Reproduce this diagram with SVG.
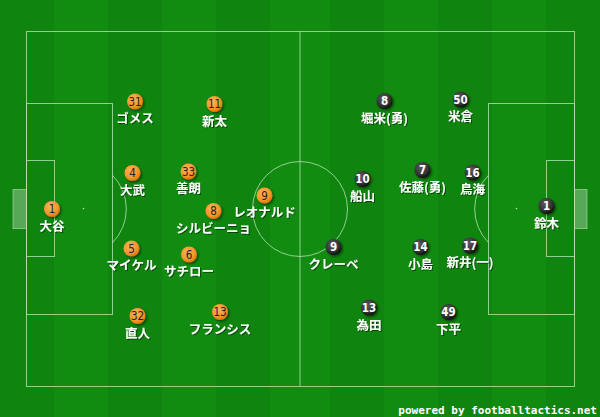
<svg xmlns="http://www.w3.org/2000/svg" width="600" height="417" viewBox="0 0 600 417">
<defs>
<radialGradient id="go" cx="40%" cy="35%" r="65%"><stop offset="0" stop-color="#ffb35a"/><stop offset="0.7" stop-color="#f5962a"/><stop offset="1" stop-color="#d9780f"/></radialGradient>
<radialGradient id="gb" cx="40%" cy="35%" r="65%"><stop offset="0" stop-color="#5a5a5a"/><stop offset="0.7" stop-color="#333"/><stop offset="1" stop-color="#111"/></radialGradient>
<filter id="sh" x="-50%" y="-50%" width="200%" height="200%"><feDropShadow dx="1.5" dy="1.5" stdDeviation="1.2" flood-color="#000" flood-opacity="0.5"/></filter>
<filter id="ts" x="-10%" y="-30%" width="120%" height="160%"><feDropShadow dx="1" dy="1" stdDeviation="0.6" flood-color="#000" flood-opacity="0.5"/></filter>
</defs>
<style>
.ln{fill:none;stroke:#b4e0b4;stroke-opacity:0.8;stroke-width:1}
.o circle{fill:url(#go);filter:url(#sh)}
.b circle{fill:url(#gb);filter:url(#sh)}
.o .n{fill:#222;font-family:"DejaVu Sans Condensed","DejaVu Sans",sans-serif;font-size:11.5px;text-anchor:middle}
.b .n{fill:#fff;font-family:"DejaVu Sans Condensed","DejaVu Sans",sans-serif;font-weight:bold;font-size:11.5px;text-anchor:middle}
.lb{fill:#fff;font-family:"Noto Sans CJK JP",sans-serif;font-weight:bold;font-size:12.5px;text-anchor:middle;filter:url(#ts)}
</style>
<rect width="600" height="417" fill="#118c11"/>
<g fill="#0f850f">
<rect x="0" y="0" width="54" height="417"/>
<rect x="108" y="0" width="54" height="417"/>
<rect x="216" y="0" width="54" height="417"/>
<rect x="330" y="0" width="54" height="417"/>
<rect x="438" y="0" width="54" height="417"/>
<rect x="546" y="0" width="54" height="417"/>
</g>
<g id="pitch">
<rect class="ln" x="26.5" y="31.5" width="548" height="355"/>
<line class="ln" x1="300" y1="31.5" x2="300" y2="386.5"/>
<circle class="ln" cx="300" cy="209" r="47.5"/>
<rect class="ln" x="26.5" y="103.5" width="86" height="211"/>
<rect class="ln" x="26.5" y="160.5" width="28" height="96"/>
<rect class="ln" x="488.5" y="103.5" width="86" height="211"/>
<rect class="ln" x="546.5" y="160.5" width="28" height="96"/>
<path class="ln" d="M112.5 175.3 A48 48 0 0 1 112.5 242.7"/>
<path class="ln" d="M488.5 175.3 A48 48 0 0 0 488.5 242.7"/>
<rect x="13" y="189.5" width="13.5" height="39" fill="#ffffff" fill-opacity="0.3" stroke="#b4e0b4" stroke-opacity="0.6"/>
<rect x="574.5" y="189.5" width="12.5" height="39" fill="#ffffff" fill-opacity="0.3" stroke="#b4e0b4" stroke-opacity="0.6"/>
<circle cx="83.5" cy="208.5" r="0.8" fill="#b4e0b4"/>
<circle cx="516.5" cy="208.5" r="0.8" fill="#b4e0b4"/>
</g>
<g id="connectors"></g>
<g id="home" class="o">
<g id="h1"><circle cx="52" cy="209" r="8"/><text class="n" x="52" y="213">1</text><text class="lb" x="52" y="231">大谷</text></g>
<g id="h31"><circle cx="135" cy="101.5" r="8"/><text class="n" x="135" y="105.5">31</text><text class="lb" x="135" y="123">ゴメス</text></g>
<g id="h11"><circle cx="214.5" cy="104" r="8"/><text class="n" x="214.5" y="108">11</text><text class="lb" x="214.5" y="125.5">新太</text></g>
<g id="h4"><circle cx="132.5" cy="173" r="8"/><text class="n" x="132.5" y="177">4</text><text class="lb" x="132.5" y="194.5">大武</text></g>
<g id="h33"><circle cx="188.5" cy="171.5" r="8"/><text class="n" x="188.5" y="175.5">33</text><text class="lb" x="188.5" y="193">善朗</text></g>
<g id="h9"><circle cx="264.5" cy="195.5" r="8"/><text class="n" x="264.5" y="199.5">9</text><text class="lb" x="264.5" y="217">レオナルド</text></g>
<g id="h8"><circle cx="213.5" cy="211" r="8"/><text class="n" x="213.5" y="215">8</text><text class="lb" x="213.5" y="232.5">シルビーニョ</text></g>
<g id="h5"><circle cx="131.5" cy="248.5" r="8"/><text class="n" x="131.5" y="252.5">5</text><text class="lb" x="131.5" y="270">マイケル</text></g>
<g id="h6"><circle cx="189" cy="254.5" r="8"/><text class="n" x="189" y="258.5">6</text><text class="lb" x="189" y="276">サチロー</text></g>
<g id="h32"><circle cx="137.5" cy="316" r="8"/><text class="n" x="137.5" y="320">32</text><text class="lb" x="137.5" y="337.5">直人</text></g>
<g id="h13"><circle cx="220" cy="312" r="8"/><text class="n" x="220" y="316">13</text><text class="lb" x="220" y="334">フランシス</text></g>
</g>
<g id="away" class="b">
<g id="a1"><circle cx="546.5" cy="206" r="8"/><text class="n" x="546.5" y="210">1</text><text class="lb" x="546.5" y="228">鈴木</text></g>
<g id="a8"><circle cx="384.5" cy="101" r="8"/><text class="n" x="384.5" y="105">8</text><text class="lb" x="384.5" y="122.5">堀米(勇)</text></g>
<g id="a50"><circle cx="460.5" cy="99.5" r="8"/><text class="n" x="460.5" y="103.5">50</text><text class="lb" x="460.5" y="121">米倉</text></g>
<g id="a10"><circle cx="362.5" cy="179" r="8"/><text class="n" x="362.5" y="183">10</text><text class="lb" x="362.5" y="200.5">船山</text></g>
<g id="a7"><circle cx="422.5" cy="170" r="8"/><text class="n" x="422.5" y="174">7</text><text class="lb" x="422.5" y="191.5">佐藤(勇)</text></g>
<g id="a16"><circle cx="472.5" cy="172.5" r="8"/><text class="n" x="472.5" y="176.5">16</text><text class="lb" x="472.5" y="194">鳥海</text></g>
<g id="a9"><circle cx="333.5" cy="247" r="8"/><text class="n" x="333.5" y="251">9</text><text class="lb" x="333.5" y="268.5">クレーベ</text></g>
<g id="a14"><circle cx="420.5" cy="247" r="8"/><text class="n" x="420.5" y="251">14</text><text class="lb" x="420.5" y="268.5">小島</text></g>
<g id="a17"><circle cx="470" cy="245.5" r="8"/><text class="n" x="470" y="249.5">17</text><text class="lb" x="470" y="267">新井(一)</text></g>
<g id="a13"><circle cx="369" cy="307.5" r="8"/><text class="n" x="369" y="311.5">13</text><text class="lb" x="369" y="329.5">為田</text></g>
<g id="a49"><circle cx="448.5" cy="312" r="8"/><text class="n" x="448.5" y="316">49</text><text class="lb" x="448.5" y="333.5">下平</text></g>
</g>
<text x="597" y="414" fill="#fff" font-family="'DejaVu Sans Mono',monospace" font-weight="bold" font-size="11" text-anchor="end">powered by footballtactics.net</text>
</svg>
